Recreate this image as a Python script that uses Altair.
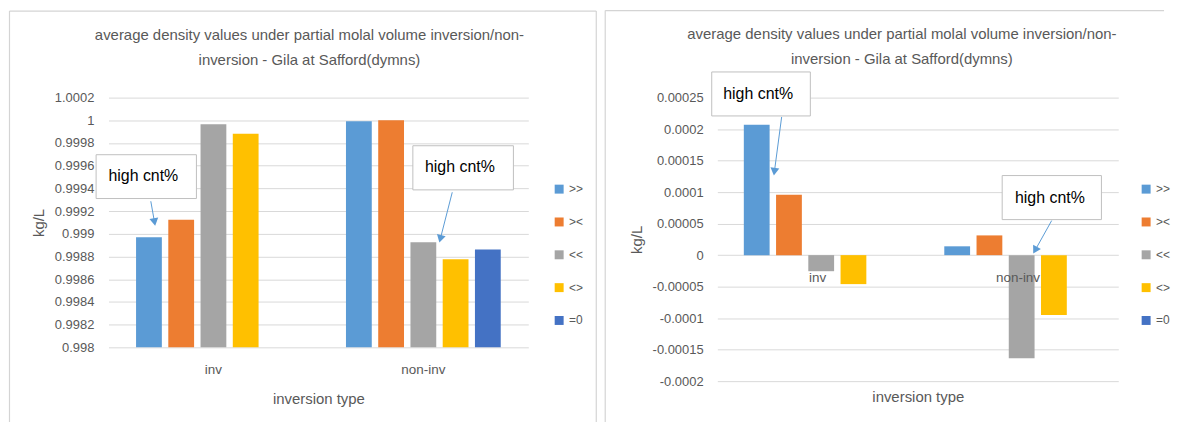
import math
import altair as alt
import pandas as pd

# ---------------- data ----------------
categories = ["inv", "non-inv"]
series = [">>", "><", "<<", "<>", "=0"]
colors = ["#5B9BD5", "#ED7D31", "#A5A5A5", "#FFC000", "#4472C4"]

left_inv = [0.99897, 0.999125, 0.999965, 0.999882, None]
left_noninv = [0.999991, 1.0, 0.998926, 0.998775, 0.998862]
right_inv = [0.000207, 0.0000958, -0.0000255, -0.000046, None]
right_noninv = [0.000014, 0.0000313, -0.0001636, -0.000095, None]

left_ticks = [0.998, 0.9982, 0.9984, 0.9986, 0.9988, 0.999, 0.9992, 0.9994, 0.9996, 0.9998, 1.0, 1.0002]
right_ticks = [-0.0002, -0.00015, -0.0001, -0.00005, 0.0, 0.00005, 0.0001, 0.00015, 0.0002, 0.00025]

title_lines = ["average density values under partial molal volume inversion/non-",
               "inversion - Gila at Safford(dymns)"]
y_title = "kg/L"
x_title = "inversion type"
note_text = "high cnt%"

# annotation boxes (x in category units 0..2, y in data units)
left_box_x = [-0.059, 1.450]
left_box_x2 = [0.419, 1.929]
left_box_top = [0.999697, 0.999776]
left_box_bottom = [0.999311, 0.999387]
left_text_x = [0.166, 1.674]
left_text_y = [0.999507, 0.999586]
left_arrow_from = [(0.2016, 0.999287), (1.6377, 0.999366)]
left_arrow_to = [(0.2229, 0.999065), (1.5756, 0.998918)]

right_box_x = [-0.028, 1.421]
right_box_x2 = [0.464, 1.916]
right_box_top = [0.0002907, 0.0001263]
right_box_bottom = [0.0002209, 0.0000564]
right_text_x = [0.2036, 1.6588]
right_text_y = [0.0002558, 0.0000913]
right_arrow_from = [(0.3208, 0.0002193), (1.6677, 0.0000548)]
right_arrow_to = [(0.2816, 0.0001253), (1.5744, 0.0000016)]

FONT = "Liberation Sans"
TXT = "#595959"
GRID = "#D9D9D9"
BORDER = "#D4D4D4"


def bar_frame(inv, noninv):
    rows = []
    for cat, vals in zip(categories, [inv, noninv]):
        for s, v in zip(series, vals):
            if v is not None:
                rows.append({"Category": cat, "Series": s, "Value": v})
    return pd.DataFrame(rows)


def make_panel(inv, noninv, ticks, fmt, width, height, baseline,
               box_x, box_x2, box_top, box_bot, tx, ty, a_from, a_to,
               legend_x, legend_y, x_title_pad, y_label_pad, y_title_pad,
               title_dx, title_offset, borders):
    ymin, ymax = ticks[0], ticks[-1]
    yscale = alt.Scale(domain=[ymin, ymax], nice=False, zero=False)
    yaxis = alt.Axis(values=ticks, title=y_title, grid=True, gridColor=GRID,
                     domain=False, ticks=False, labelPadding=y_label_pad,
                     titlePadding=y_title_pad,
                     labelExpr=f"replace(format(datum.value, '{fmt}'), '\u2212', '-')")
    xband = alt.Scale(domain=categories, paddingInner=0.232, paddingOuter=0.116)
    uscale = alt.Scale(domain=[0, 2], nice=False, zero=False)

    df = bar_frame(inv, noninv)
    bars = alt.Chart(df).mark_bar().encode(
        x=alt.X("Category:N", scale=xband,
                axis=alt.Axis(title=x_title, labels=False, ticks=False, domain=False,
                              titlePadding=x_title_pad)),
        xOffset=alt.XOffset("Series:N", scale=alt.Scale(domain=series, paddingInner=0.2, paddingOuter=0.1)),
        y=alt.Y("Value:Q", scale=yscale, axis=yaxis),
        y2=alt.datum(baseline),
        color=alt.Color("Series:N", scale=alt.Scale(domain=series, range=colors),
                        legend=alt.Legend(orient="none", legendX=legend_x, legendY=legend_y,
                                          title=None, symbolType="square", symbolSize=81,
                                          symbolStrokeWidth=0, labelFontSize=12,
                                          labelColor=TXT, labelFont=FONT, rowPadding=21,
                                          padding=0, labelOffset=4)),
    )

    cat_df = pd.DataFrame({"Category": categories})
    cat_labels = alt.Chart(cat_df).mark_text(
        baseline="middle", dy=23, fontSize=13.5, font=FONT, color=TXT
    ).encode(
        x=alt.X("Category:N", scale=xband, axis=None),
        y=alt.datum(baseline, scale=yscale, axis=yaxis),
        text="Category:N",
    )

    box_df = pd.DataFrame({"u": box_x, "u2": box_x2, "top": box_top, "bot": box_bot})
    boxes = alt.Chart(box_df).mark_rect(fill="white", stroke="#BFBFBF", strokeWidth=1).encode(
        x=alt.X("u:Q", scale=uscale, axis=None),
        x2="u2:Q",
        y=alt.Y("top:Q", scale=yscale, axis=yaxis),
        y2="bot:Q",
    )

    txt_df = pd.DataFrame({"u": tx, "v": ty, "t": [note_text, note_text]})
    texts = alt.Chart(txt_df).mark_text(fontSize=16, font=FONT, color="#000000").encode(
        x=alt.X("u:Q", scale=uscale, axis=None),
        y=alt.Y("v:Q", scale=yscale, axis=yaxis),
        text="t:N",
    )

    # arrows
    px_u = width / 2.0
    px_v = height / (ymax - ymin)
    head = 80
    r = math.sqrt(head) / 2.0
    arows = []
    for (u0, v0), (u1, v1) in zip(a_from, a_to):
        dx = (u1 - u0) * px_u
        dy = -(v1 - v0) * px_v
        L = math.hypot(dx, dy)
        ux, uy = dx / L, dy / L
        ang = math.degrees(math.atan2(ux, -uy)) % 360
        uc = u1 - r * ux / px_u
        vc = v1 + r * uy / px_v
        arows.append({"u0": u0, "v0": v0, "uc": uc, "vc": vc, "ang": ang})
    arr_df = pd.DataFrame(arows)
    lines = alt.Chart(arr_df).mark_rule(color="#5B9BD5", strokeWidth=1).encode(
        x=alt.X("u0:Q", scale=uscale, axis=None),
        x2="uc:Q",
        y=alt.Y("v0:Q", scale=yscale, axis=yaxis),
        y2="vc:Q",
    )
    heads = alt.Chart(arr_df).mark_point(shape="triangle-up", filled=True, size=head,
                                         color="#5B9BD5", opacity=1).encode(
        x=alt.X("uc:Q", scale=uscale, axis=None),
        y=alt.Y("vc:Q", scale=yscale, axis=yaxis),
        angle=alt.Angle("ang:Q", scale=None),
    )

    # panel frame lines (decoration, pixel space)
    border_layers = []
    for (x1, y1, x2, y2) in borders:
        border_layers.append(
            alt.Chart(alt.Data(values=[{}])).mark_rule(color=BORDER, strokeWidth=1.2).encode(
                x=alt.value(x1), x2=alt.value(x2), y=alt.value(y1), y2=alt.value(y2)
            )
        )

    layer = alt.layer(*border_layers, bars, cat_labels, boxes, lines, heads, texts).resolve_scale(
        x="independent"
    ).properties(
        width=width, height=height,
        title=alt.TitleParams(text=title_lines, fontSize=15, font=FONT, color=TXT,
                              fontWeight="normal", lineHeight=25, anchor="middle",
                              frame="group", dx=title_dx, offset=title_offset),
    )
    return layer


LW, LH = 422, 251
RW, RH = 403, 285

left = make_panel(
    left_inv, left_noninv, left_ticks, ".5~r", LW, LH, 0.998,
    left_box_x, left_box_x2, left_box_top, left_box_bottom, left_text_x, left_text_y,
    left_arrow_from, left_arrow_to,
    legend_x=447, legend_y=86, x_title_pad=44, y_label_pad=14.7, y_title_pad=8,
    title_dx=-9, title_offset=-58,
    borders=[(-99.5, -87, -99.5, 326), (-99.5, -87, 490.3, -87), (490.3, -87, 490.3, 326)],
)
right = make_panel(
    right_inv, right_noninv, right_ticks, ".2~r", RW, RH, 0.0,
    right_box_x, right_box_x2, right_box_top, right_box_bottom, right_text_x, right_text_y,
    right_arrow_from, right_arrow_to,
    legend_x=425, legend_y=86, x_title_pad=8, y_label_pad=14.3, y_title_pad=8,
    title_dx=-16, title_offset=-57,
    borders=[(-112.7, -87.5, -112.7, 326), (-112.7, -87.5, 449, -87.5)],
)

chart = alt.hconcat(left, right, spacing=190, bounds="flush").resolve_scale(
    color="independent"
).resolve_legend(color="independent").properties(
    padding=0
).configure_view(stroke=None).configure_axis(
    labelFont=FONT, titleFont=FONT, labelColor=TXT, titleColor=TXT,
    labelFontSize=13, titleFontSize=15, titleFontWeight="normal",
)

chart.save("out.html", embed_options={"renderer": "svg", "actions": False})
